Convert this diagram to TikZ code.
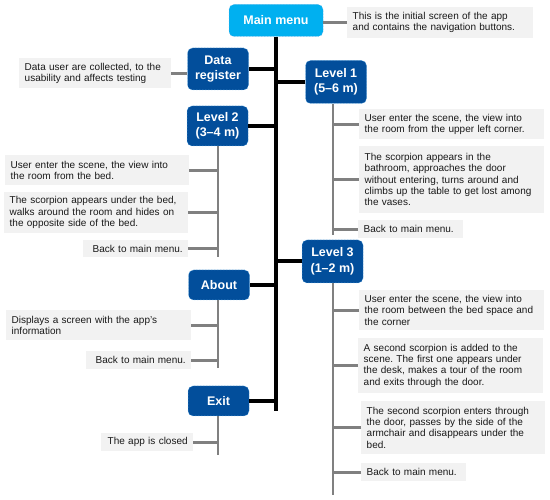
\documentclass[tikz,border=0pt]{standalone}
\usepackage{fontspec}
\setmainfont{Liberation Sans}
\frenchspacing
\definecolor{mmblue}{RGB}{0,176,240}
\definecolor{dkblue}{RGB}{2,78,155}
\definecolor{edgeblue}{RGB}{90,170,230}
\definecolor{descfill}{RGB}{242,242,242}
\definecolor{connGray}{RGB}{128,128,128}
\definecolor{txt}{RGB}{25,25,25}
\begin{document}
\begin{tikzpicture}[x=1pt,y=-1pt,
  btn/.style={rectangle, rounded corners=5pt, fill=dkblue, draw=edgeblue, densely dotted, line width=0.5pt,
    text=white, font=\fontsize{12.5}{15.5}\selectfont\bfseries, align=center,
    minimum width=61pt, inner sep=0pt},
  mainbtn/.style={btn, fill=mmblue, draw=edgeblue},
  desc/.style={rectangle, fill=descfill, draw=none, text=txt, anchor=north west,
    font=\fontsize{10}{11.3}\selectfont\frenchspacing, align=left, inner xsep=5.5pt, inner ysep=0pt},
  trunk/.style={draw=black, line width=4pt},
  branch/.style={draw=connGray, line width=2.8pt}
]
\useasboundingbox (0,0) rectangle (550,500);

% buttons
\node[mainbtn, minimum width=94pt, minimum height=32pt] (mm) at (276,20.5) {Main menu};
\node[btn, minimum height=42pt] (dr) at (218,69) {Data\\register};
\node[btn, minimum height=43pt] (L1) at (336,82) {Level 1\\(5–6 m)};
\node[btn, minimum height=40pt] (L2) at (217.5,126) {Level 2\\(3–4 m)};
\node[btn, minimum height=43pt] (L3) at (332.5,261.5) {Level 3\\(1–2 m)};
\node[btn, minimum height=30pt] (ab) at (219,285) {About};
\node[btn, minimum height=30pt] (ex) at (218.5,401) {Exit};

% descriptions
\node[desc, text width=175pt, minimum height=31pt] (mmd) at (347,7) {This is the initial screen of the app\\and contains the navigation buttons.};
\node[desc, text width=141pt, minimum height=30pt] (drd) at (19,58) {Data user are collected, to the\\usability and affects testing};

\node[desc, text width=174pt, minimum height=30pt] (L1a) at (359,109) {User enter the scene, the view into\\the room from the upper left corner.};
\node[desc, text width=174pt, minimum height=67pt] (L1b) at (359,146) {The scorpion appears in the\\bathroom, approaches the door\\without entering, turns around and\\climbs up the table to get lost among\\the vases.};
\node[desc, text width=94pt, minimum height=18pt] (L1c) at (358,220) {Back to main menu.};

\node[desc, text width=173pt, minimum height=30pt] (L2a) at (5,155) {User enter the scene, the view into\\the room from the bed.};
\node[desc, text width=173pt, minimum height=41pt] (L2b) at (4,192) {The scorpion appears under the bed,\\walks around the room and hides on\\the opposite side of the bed.};
\node[desc, text width=94pt, minimum height=17pt, align=right] (L2c) at (83,240) {Back to main menu.};

\node[desc, text width=174pt, minimum height=30pt] (aba) at (6,310) {Displays a screen with the app's\\information};
\node[desc, text width=94pt, minimum height=18pt, align=right] (abb) at (86,351) {Back to main menu.};

\node[desc, text width=81pt, minimum height=18pt, align=right] (exa) at (101,433) {The app is closed};

\node[desc, text width=174pt, minimum height=40pt] (L3a) at (359,290) {User enter the scene, the view into\\the room between the bed space and\\the corner};
\node[desc, text width=174pt, minimum height=55pt] (L3b) at (358,338) {A second scorpion is added to the\\scene. The first one appears under\\the desk, makes a tour of the room\\and exits through the door.};
\node[desc, text width=173pt, minimum height=53pt] (L3c) at (361,401) {The second scorpion enters through\\the door, passes by the side of the\\armchair and disappears under the\\bed.};
\node[desc, text width=94pt, minimum height=18pt] (L3d) at (361,463) {Back to main menu.};

% end points
\coordinate (tend) at (276,411);
\coordinate (L1end) at (333,235);
\coordinate (L2end) at (218,257);
\coordinate (abend) at (218,368);
\coordinate (exend) at (218,455);
\coordinate (L3end) at (333,495);

% black trunk and branches
\draw[trunk] (mm.south) -- (tend);
\draw[trunk] (dr.east) -- (dr.east -| tend);
\draw[trunk] (L1.west) -- (L1.west -| tend);
\draw[trunk] (L2.east) -- (L2.east -| tend);
\draw[trunk] (L3.west) -- (L3.west -| tend);
\draw[trunk] (ab.east) -- (ab.east -| tend);
\draw[trunk] (ex.east) -- (ex.east -| tend);

% grey connectors
\draw[branch] (mmd.west) -- (mmd.west -| mm.east);
\draw[branch] (drd.east) -- (drd.east -| dr.west);

\draw[branch] (L1.south -| L1end) -- (L1end);
\foreach \d in {L1a,L1b,L1c} \draw[branch] (\d.west) -- (\d.west -| L1end);

\draw[branch] (L2.south -| L2end) -- (L2end);
\foreach \d in {L2a,L2b,L2c} \draw[branch] (\d.east) -- (\d.east -| L2end);

\draw[branch] (ab.south -| abend) -- (abend);
\foreach \d in {aba,abb} \draw[branch] (\d.east) -- (\d.east -| abend);

\draw[branch] (ex.south -| exend) -- (exend);
\draw[branch] (exa.east) -- (exa.east -| exend);

\draw[branch] (L3.south -| L3end) -- (L3end);
\foreach \d in {L3a,L3b,L3c,L3d} \draw[branch] (\d.west) -- (\d.west -| L3end);
\end{tikzpicture}
\end{document}
